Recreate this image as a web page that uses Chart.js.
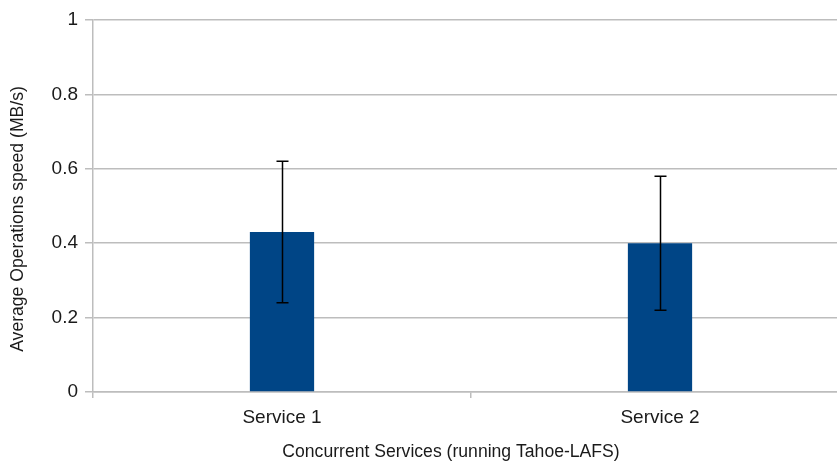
<!DOCTYPE html>
<html>
<head>
<meta charset="utf-8">
<script src="https://cdn.jsdelivr.net/npm/chart.js@4"></script>
<style>
  html, body { margin: 0; padding: 0; background: #ffffff; overflow: hidden; }
  #wrap { width: 849px; height: 462px; }
</style>
</head>
<body>
<div id="wrap"><canvas id="chart" width="849" height="462"></canvas></div>
<script>
// Average speed per concurrent service, with min/max spread
const services = ['Service 1', 'Service 2'];
const avgSpeed = [0.43, 0.40];
const errLow = [0.24, 0.22];
const errHigh = [0.62, 0.58];
const yTicks = [0, 0.2, 0.4, 0.6, 0.8, 1];

const xTitle = 'Concurrent Services (running Tahoe-LAFS)';
const yTitle = 'Average Operations speed (MB/s)';

const textColor = '#1a1a1a';
const gridColor = '#bdbdbd';
const fontFamily = '"Liberation Sans", Arial, sans-serif';

// Draws the vertical error bars with caps from errLow/errHigh
const errorBars = {
  id: 'errorBars',
  afterDatasetsDraw(chart) {
    const ctx = chart.ctx;
    const meta = chart.getDatasetMeta(0);
    const y = chart.scales.y;
    ctx.save();
    ctx.strokeStyle = '#000000';
    ctx.lineWidth = 1.5;
    meta.data.forEach((bar, i) => {
      const x = Math.round(bar.x) + 0.5;
      const yHi = y.getPixelForValue(errHigh[i]);
      const yLo = y.getPixelForValue(errLow[i]);
      const cap = 6;
      ctx.beginPath();
      ctx.moveTo(x, yHi); ctx.lineTo(x, yLo);
      ctx.moveTo(x - cap, yHi); ctx.lineTo(x + cap, yHi);
      ctx.moveTo(x - cap, yLo); ctx.lineTo(x + cap, yLo);
      ctx.stroke();
    });
    ctx.restore();
  }
};

// Axis titles placed beside the plot
const axisTitles = {
  id: 'axisTitles',
  afterDraw(chart) {
    const ctx = chart.ctx;
    ctx.save();
    ctx.fillStyle = textColor;
    ctx.font = '17.6px ' + fontFamily;
    ctx.textAlign = 'center';
    ctx.textBaseline = 'middle';
    ctx.fillText(xTitle, 451, 452);
    ctx.translate(18, 219);
    ctx.rotate(-Math.PI / 2);
    ctx.fillText(yTitle, 0, 0);
    ctx.restore();
  }
};

new Chart(document.getElementById('chart'), {
  type: 'bar',
  data: {
    labels: services,
    datasets: [{
      data: avgSpeed,
      backgroundColor: '#004586',
      borderWidth: 0,
      barPercentage: 0.17,
      categoryPercentage: 1.0
    }]
  },
  options: {
    responsive: false,
    animation: false,
    devicePixelRatio: 1,
    layout: { padding: { top: 20, right: 0, bottom: 0, left: 0 } },
    plugins: {
      legend: { display: false },
      tooltip: { enabled: false },
      title: { display: false }
    },
    scales: {
      x: {
        afterFit(scale) { scale.height = 70; },
        grid: {
          display: true,
          offset: true,
          drawOnChartArea: false,
          drawTicks: true,
          tickLength: 6,
          color: gridColor,
          lineWidth: 1.5
        },
        border: { display: true, color: gridColor, width: 1.5 },
        ticks: {
          color: textColor,
          font: { family: fontFamily, size: 19 },
          padding: 8,
          maxRotation: 0
        }
      },
      y: {
        min: 0,
        max: 1,
        afterFit(scale) { scale.width = 93; },
        afterBuildTicks(scale) { scale.ticks = yTicks.map(v => ({ value: v })); },
        grid: {
          color: gridColor,
          lineWidth: 1.5,
          drawTicks: true,
          tickLength: 8
        },
        border: { display: true, color: gridColor, width: 1.5 },
        ticks: {
          color: textColor,
          font: { family: fontFamily, size: 19 },
          padding: 7,
          callback: (v) => String(v)
        }
      }
    }
  },
  plugins: [errorBars, axisTitles]
});
</script>
</body>
</html>
